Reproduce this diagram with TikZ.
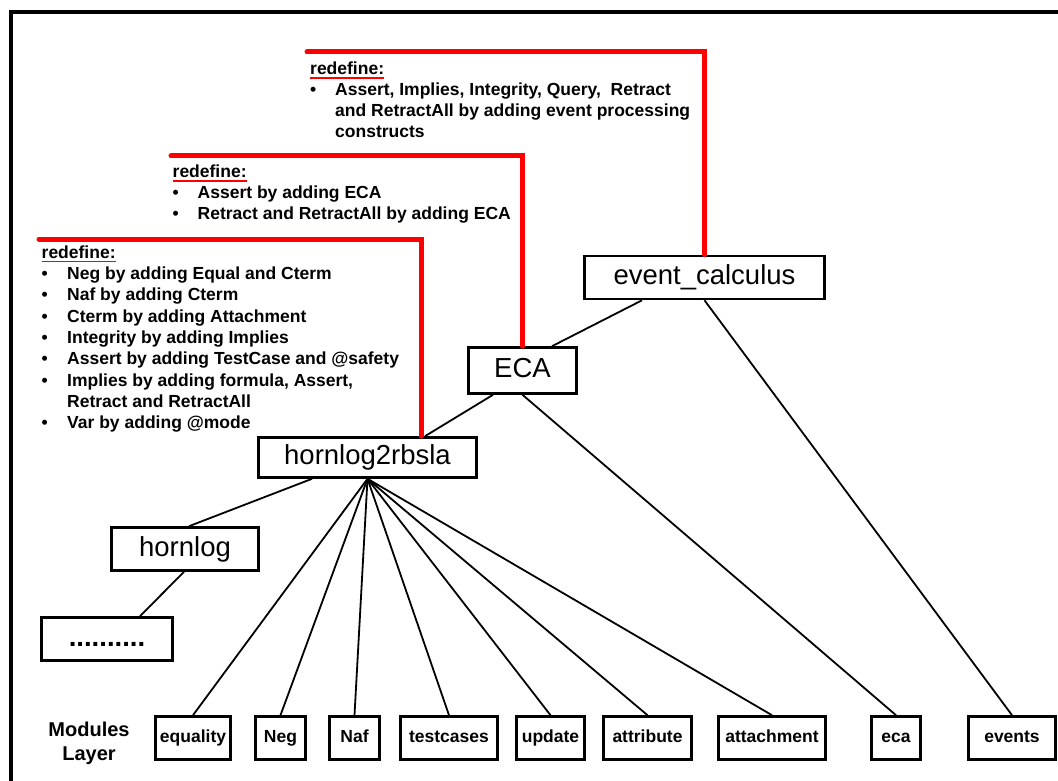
\documentclass[tikz,border=0pt]{standalone}
\usepackage{fontspec}
\setmainfont{Liberation Sans}
\begin{document}
\begin{tikzpicture}[x=1pt,y=-1pt,
  box/.style={draw, line width=2.6pt, inner sep=0pt, minimum height=43pt, text height=20pt, text depth=6pt, font=\fontsize{27.5}{30}\selectfont},
  mod/.style={draw, line width=2.6pt, inner sep=0pt, minimum height=43pt, text height=12pt, text depth=3.5pt, font=\bfseries\fontsize{17.5}{20}\selectfont},
  conn/.style={line width=1.8pt},
  redline/.style={red, line width=5pt, line cap=round},
  txt/.style={anchor=base west, inner sep=0pt, font=\bfseries\fontsize{17.5}{20.8}\selectfont},
  uline/.style={red, line width=1.3pt}]
\useasboundingbox (0,0) rectangle (1058,781);
\fill[white] (0,0) rectangle (1058,781);
% frame
\draw[line width=4.5pt] (11,781) -- (11,12) -- (1058,12);

% boxes
\node[box, minimum width=240pt] (evc) at (704.5,277.5) {event\_calculus};
\node[box, minimum width=108pt, minimum height=46pt] (eca1) at (522.5,370.5) {ECA};
\node[box, minimum width=218pt, minimum height=40pt] (h2r) at (367.5,457.5) {hornlog2rbsla};
\node[box, minimum width=147pt] (hl) at (185,549) {hornlog};
\node[box, minimum width=131pt, font=\bfseries\fontsize{27.5}{30}\selectfont] (dots) at (107,639) {..........};

% modules
\node[mod, minimum width=75pt] (equality) at (193,738) {equality};
\node[mod, minimum width=50pt] (neg) at (280.5,738) {Neg};
\node[mod, minimum width=50pt] (naf) at (354.5,738) {Naf};
\node[mod, minimum width=97pt] (testcases) at (449,738) {testcases};
\node[mod, minimum width=68pt] (update) at (550.5,738) {update};
\node[mod, minimum width=88pt] (attribute) at (647.5,738) {attribute};
\node[mod, minimum width=107pt] (attachment) at (772,738) {attachment};
\node[mod, minimum width=49pt] (eca) at (896,738) {eca};
\node[mod, minimum width=87pt] (events) at (1012,738) {events};
\node[inner sep=0pt, align=center, font=\bfseries\fontsize{20}{24}\selectfont] (layer) at (89,743) {Modules\\Layer};

% connectors
\draw[conn] ([xshift=-62.5pt]evc.south) -- ([xshift=29.5pt]eca1.north);
\draw[conn] (evc.south) -- (events.north);
\draw[conn] ([xshift=-29.5pt]eca1.south) -- ([xshift=57.5pt]h2r.north);
\draw[conn] (eca1.south) -- (eca.north);
\draw[conn] ([xshift=-55.5pt]h2r.south) -- ([xshift=4pt]hl.north);
\draw[conn] ([xshift=-1pt]hl.south) -- ([xshift=33pt]dots.north);
\foreach \m in {equality,neg,naf,testcases,update,attribute,attachment}
  \draw[conn] (h2r.south) -- (\m.north);

% annotation block 1
\node[txt] (rd1) at (310,75) {redefine:};
\draw[uline] ([yshift=-3pt]rd1.base west) -- ([yshift=-3pt]rd1.base east);
\node[txt] (l1) at (310,95.5) {\begin{tabular}[t]{@{}p{25pt}@{}l@{}}
• & Assert, Implies, Integrity, Query,~ Retract\\
  & and RetractAll by adding event processing\\
  & constructs
\end{tabular}};

% annotation block 2
\node[txt] (rd2) at (172.5,178) {redefine:};
\draw[uline] ([yshift=-3pt]rd2.base west) -- ([yshift=-3pt]rd2.base east);
\node[txt] (l2) at (172.5,198.5) {\begin{tabular}[t]{@{}p{25pt}@{}l@{}}
• & Assert by adding ECA\\
• & Retract and RetractAll by adding ECA
\end{tabular}};

% annotation block 3
\node[txt] (rd3) at (41.5,258.5) {redefine:};
\draw[uline] ([yshift=-3pt]rd3.base west) -- ([yshift=-3pt]rd3.base east);
\node[txt, font=\bfseries\fontsize{17.5}{21.3}\selectfont] (l3) at (41.5,279.5) {\begin{tabular}[t]{@{}p{25.5pt}@{}l@{}}
• & Neg by adding Equal and Cterm\\
• & Naf by adding Cterm\\
• & Cterm by adding Attachment\\
• & Integrity by adding Implies\\
• & Assert by adding TestCase and @safety\\
• & Implies by adding formula, Assert,\\
  & Retract and RetractAll\\
• & Var by adding @mode
\end{tabular}};

% red lines
\coordinate (r1) at (307,52);
\coordinate (r2) at (171,156);
\coordinate (r3) at (39,239);
\coordinate (h2rtop) at ([xshift=53.5pt]h2r.north);
\draw[redline] (r1) -- (r1 -| evc.north) -- (evc.north);
\draw[redline] (r2) -- (r2 -| eca1.north) -- (eca1.north);
\draw[redline] (r3) -- (r3 -| h2rtop) -- (h2rtop);
\end{tikzpicture}
\end{document}
